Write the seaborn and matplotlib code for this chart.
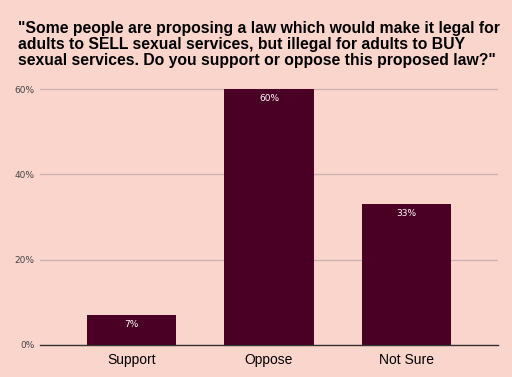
import matplotlib
matplotlib.use("Agg")
import matplotlib.pyplot as plt
import seaborn as sns
import pandas as pd

# Survey answers
answers = ["Support", "Oppose", "Not Sure"]
shares = [7, 60, 33]

bg = "#fad5cc"
bar_color = "#4a0024"

sns.set_style("white")
plt.rcParams["font.family"] = ["Liberation Sans", "DejaVu Sans"]

df = pd.DataFrame({"answer": answers, "share": shares})

fig = plt.figure(figsize=(5.12, 3.77), dpi=100, facecolor=bg)
ax = fig.add_axes([0.078, 0.085, 0.895, 0.682])
ax.set_facecolor(bg)

sns.barplot(data=df, x="answer", y="share", color=bar_color, width=0.65,
            saturation=1, linewidth=0, ax=ax, zorder=3)

for i, v in enumerate(shares):
    ax.text(i, v - 1.2, f"{v}%", ha="center", va="top", color="white",
            fontsize=6.5, family=["DejaVu Sans"], zorder=4)

ax.set_ylim(0, 60.3)
ax.set_xlim(-0.67, 2.67)
ax.set_yticks([0, 20, 40, 60])
ax.set_yticklabels(["0%", "20%", "40%", "60%"], fontsize=6.5, color="#444444",
                   family=["DejaVu Sans"])
ax.tick_params(axis="x", labelsize=10, colors="black", length=0, pad=6)
ax.tick_params(axis="y", length=0, pad=4)
ax.grid(axis="y", color="#c9b0aa", linewidth=0.9, zorder=0)
ax.set_xlabel("")
ax.set_ylabel("")
for s in ["top", "right", "left"]:
    ax.spines[s].set_visible(False)
ax.spines["bottom"].set_color("#333333")
ax.spines["bottom"].set_linewidth(1)
ax.spines["bottom"].set_zorder(5)

fig.text(0.035, 0.945,
         "\"Some people are proposing a law which would make it legal for\n"
         "adults to SELL sexual services, but illegal for adults to BUY\n"
         "sexual services. Do you support or oppose this proposed law?\"",
         ha="left", va="top", fontsize=11.3, fontweight="bold", color="black",
         linespacing=1.08)

fig.savefig("out.png", dpi=100, facecolor=bg)
